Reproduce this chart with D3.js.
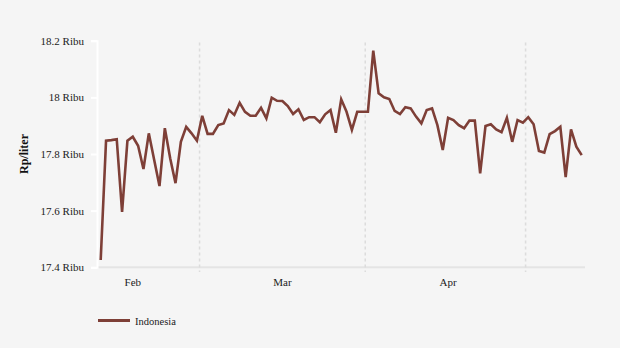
<!DOCTYPE html>
<html>
<head>
<meta charset="utf-8">
<script src="https://cdn.jsdelivr.net/npm/d3@7"></script>
<style>
  html, body { margin: 0; padding: 0; background: #f5f5f5; }
  svg { display: block; font-family: "Liberation Serif", "Times New Roman", serif; }
</style>
</head>
<body>
<svg id="chart" width="620" height="348"></svg>
<script>
// Data: daily prices (Rp thousands per liter), Feb 10 – May 11
const startDate = "2025-02-10";
const seriesName = "Indonesia";
const values = [
  17.426, 17.847, 17.849, 17.852, 17.596, 17.847, 17.861, 17.829, 17.747, 17.873,
  17.780, 17.687, 17.891, 17.785, 17.697, 17.843, 17.896, 17.873, 17.847, 17.935,
  17.871, 17.871, 17.902, 17.908, 17.955, 17.938, 17.981, 17.949, 17.935, 17.935,
  17.963, 17.926, 17.999, 17.988, 17.987, 17.969, 17.941, 17.958, 17.920, 17.930,
  17.930, 17.912, 17.940, 17.955, 17.875, 17.993, 17.949, 17.885, 17.949, 17.949,
  17.949, 18.165, 18.014, 18.000, 17.994, 17.952, 17.941, 17.965, 17.961, 17.932,
  17.908, 17.955, 17.961, 17.902, 17.814, 17.928, 17.920, 17.902, 17.891, 17.918,
  17.918, 17.732, 17.899, 17.905, 17.887, 17.877, 17.928, 17.843, 17.920, 17.911,
  17.930, 17.905, 17.811, 17.805, 17.870, 17.881, 17.896, 17.718, 17.887, 17.826,
  17.796
];
const yTicks = [17.4, 17.6, 17.8, 18.0, 18.2];
const yTickLabels = ["17.4 Ribu", "17.6 Ribu", "17.8 Ribu", "18 Ribu", "18.2 Ribu"];
const monthLabels = ["Feb", "Mar", "Apr"];
const monthLabelDates = ["2025-02-16T12:00", "2025-03-16T12:00", "2025-04-16T12:00"];
const gridDates = ["2025-03-01T00:00", "2025-04-01T00:00", "2025-05-01T00:00"];
const yTitle = "Rp/liter";

const parseDay = d3.timeParse("%Y-%m-%d");
const parseDT = d3.timeParse("%Y-%m-%dT%H:%M");
const start = parseDay(startDate);
const data = values.map((v, i) => {
  const d = d3.timeDay.offset(start, i);
  d.setHours(12);
  return { date: d, value: v };
});

const svg = d3.select("#chart");
const margin = { left: 97, right: 35, top: 40.7, bottom: 81 };
const W = 620, H = 348;

const x = d3.scaleTime()
  .domain([data[0].date, data[data.length - 1].date])
  .range([100.7, 581.7]);
const xAxisEnd = 585;
const y = d3.scaleLinear().domain([17.4, 18.2]).range([267.3, 40.7]);

const color = "#7e3f37";

// x axis baseline
svg.append("line")
  .attr("x1", margin.left).attr("x2", xAxisEnd)
  .attr("y1", y(17.4)).attr("y2", y(17.4))
  .attr("stroke", "#e4e4e4").attr("stroke-width", 2);

// dotted month gridlines
svg.append("g").selectAll("line")
  .data(gridDates.map(parseDT))
  .join("line")
  .attr("x1", d => x(d)).attr("x2", d => x(d))
  .attr("y1", 42.5).attr("y2", 272)
  .attr("stroke", "#dcdcdc").attr("stroke-width", 1.5)
  .attr("stroke-dasharray", "3,3");

// y axis (white line with ticks)
const yAxis = d3.axisLeft(y)
  .tickValues(yTicks)
  .tickSize(6)
  .tickPadding(7)
  .tickFormat((d, i) => yTickLabels[i]);
const yg = svg.append("g").attr("transform", `translate(${margin.left},0)`).call(yAxis);
yg.select(".domain").attr("stroke", "#ffffff").attr("stroke-width", 2);
yg.selectAll(".tick line").attr("stroke", "#ffffff").attr("stroke-width", 2);
yg.selectAll(".tick text")
  .attr("fill", "#222").attr("font-size", 11)
  .attr("font-family", "Liberation Serif, serif");

// month labels
svg.append("g").selectAll("text")
  .data(monthLabels)
  .join("text")
  .attr("x", (d, i) => x(parseDT(monthLabelDates[i])))
  .attr("y", 285.5)
  .attr("text-anchor", "middle")
  .attr("font-size", 11)
  .attr("fill", "#222")
  .text(d => d);

// y title
svg.append("text")
  .attr("transform", `translate(28,154) rotate(-90)`)
  .attr("text-anchor", "middle")
  .attr("font-size", 12)
  .attr("font-weight", "bold")
  .attr("fill", "#111")
  .text(yTitle);

// line
const line = d3.line().x(d => x(d.date)).y(d => y(d.value));
svg.append("path")
  .datum(data)
  .attr("d", line)
  .attr("fill", "none")
  .attr("stroke", color)
  .attr("stroke-width", 2.6)
  .attr("stroke-linejoin", "miter")
  .attr("stroke-miterlimit", 4);

// legend
svg.append("line")
  .attr("x1", 98).attr("x2", 130).attr("y1", 320.5).attr("y2", 320.5)
  .attr("stroke", color).attr("stroke-width", 3);
svg.append("text")
  .attr("x", 135).attr("y", 324.5)
  .attr("font-size", 10.5).attr("fill", "#222")
  .text(seriesName);
</script>
</body>
</html>
